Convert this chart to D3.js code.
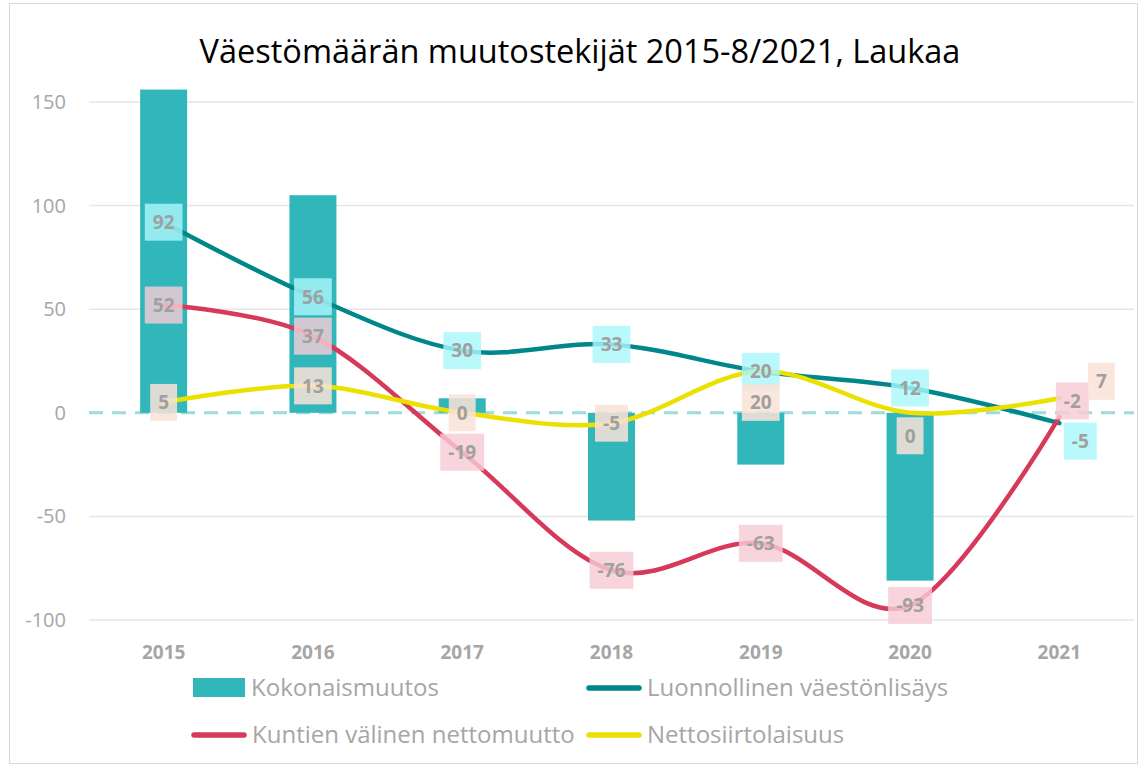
<!DOCTYPE html>
<html>
<head>
<meta charset="utf-8">
<script src="https://d3js.org/d3.v7.min.js"></script>
<style>
  body { margin: 0; background: #fff; }
  svg { font-family: 'Open Sans', 'Noto Sans', sans-serif; }
</style>
</head>
<body>
<script>
const years = ['2015', '2016', '2017', '2018', '2019', '2020', '2021'];
const kokonais = [156, 105, 7, -52, -25, -81, 0];
const luonnollinen = [92, 56, 30, 33, 20, 12, -5];
const kuntien = [52, 37, -19, -76, -63, -93, -2];
const netto = [5, 13, 0, -5, 20, 0, 7];
const yTicks = [-100, -50, 0, 50, 100, 150];

const W = 1141, H = 766;
const svg = d3.select('body').append('svg').attr('width', W).attr('height', H);

svg.append('rect').attr('x', 9.5).attr('y', 3.5).attr('width', 1128).attr('height', 760)
  .attr('fill', '#fff').attr('stroke', '#d9d9d9');

svg.append('text').attr('x', 580).attr('y', 63).attr('text-anchor', 'middle')
  .attr('font-size', 32.5).attr('fill', '#000')
  .text('Väestömäärän muutostekijät 2015-8/2021, Laukaa');

const x = d3.scaleBand().domain(years).range([89, 1134]);
const y = d3.scaleLinear().domain([-100, 150]).range([620, 102]);
const cx = d => x(d) + x.bandwidth() / 2;

// gridlines + y labels
svg.append('g').selectAll('line').data(yTicks.filter(t => t !== 0)).join('line')
  .attr('x1', 89).attr('x2', 1134).attr('y1', d => y(d)).attr('y2', d => y(d))
  .attr('stroke', '#e6e6e6').attr('stroke-width', 1.5);
svg.append('g').selectAll('text').data(yTicks).join('text')
  .attr('x', 66).attr('y', d => y(d)).attr('dy', '0.35em').attr('text-anchor', 'end')
  .attr('font-size', 20).attr('fill', '#a6a6a6').text(d => d);

svg.append('line').attr('x1', 89).attr('x2', 1134).attr('y1', y(0)).attr('y2', y(0))
  .attr('stroke', '#9bdcdc').attr('stroke-width', 3).attr('stroke-dasharray', '14 9');

// bars
const bw = 47;
svg.append('g').selectAll('rect').data(years).join('rect')
  .attr('x', d => cx(d) - bw / 2)
  .attr('y', (d, i) => y(Math.max(0, kokonais[i])))
  .attr('width', bw)
  .attr('height', (d, i) => Math.abs(y(kokonais[i]) - y(0)))
  .attr('fill', '#31b6ba');

// x labels
svg.append('g').selectAll('text').data(years).join('text')
  .attr('x', d => cx(d)).attr('y', 659).attr('text-anchor', 'middle')
  .attr('font-size', 19).attr('font-weight', 'bold').attr('fill', '#a6a6a6').text(d => d);

const series = [
  { name: 'Luonnollinen väestönlisäys', values: luonnollinen, color: '#00878a', box: 'rgba(170,246,250,0.82)',
    nudge: { 6: [21, 18] } },
  { name: 'Kuntien välinen nettomuutto', values: kuntien, color: '#d6395a', box: 'rgba(246,204,214,0.82)',
    nudge: { 6: [13, -16] } },
  { name: 'Nettosiirtolaisuus', values: netto, color: '#ece000', box: 'rgba(250,226,216,0.85)',
    nudge: { 4: [0, 31], 5: [0, 23], 6: [42, -17] } }
];

const line = d3.line().x(d => cx(d.year)).y(d => y(d.v)).curve(d3.curveCatmullRom.alpha(0));
series.forEach(s => {
  svg.append('path').datum(years.map((yr, i) => ({ year: yr, v: s.values[i] })))
    .attr('d', line).attr('fill', 'none').attr('stroke', s.color).attr('stroke-width', 4.5)
    .attr('stroke-linecap', 'round');
});

// data labels
series.forEach(s => {
  years.forEach((yr, i) => {
    const n = s.nudge[i] || [0, 0];
    const px = cx(yr) + n[0], py = y(s.values[i]) + n[1];
    const g = svg.append('g').attr('transform', `translate(${px},${py})`);
    const r = g.append('rect');
    const t = g.append('text').attr('text-anchor', 'middle').attr('dy', '0.36em')
      .attr('font-size', 19).attr('font-weight', 'bold').attr('fill', '#a0a0a0').text(s.values[i]);
    const w = t.node().getComputedTextLength() + 16;
    r.attr('x', -w / 2).attr('y', -18.5).attr('width', w).attr('height', 37).attr('fill', s.box);
  });
});

// legend
const leg = svg.append('g');
leg.append('rect').attr('x', 193).attr('y', 678).attr('width', 52).attr('height', 19).attr('fill', '#31b6ba');
leg.append('text').attr('x', 251).attr('y', 688).attr('dy', '0.35em').attr('font-size', 24).attr('fill', '#a6a6a6').text('Kokonaismuutos');
const legPos = [[586, 688], [191, 735], [586, 735]];
series.forEach((s, i) => {
  const [lx, ly] = legPos[i];
  leg.append('line').attr('x1', lx + 3).attr('x2', lx + 53).attr('y1', ly).attr('y2', ly)
    .attr('stroke', s.color).attr('stroke-width', 5.5).attr('stroke-linecap', 'round');
  leg.append('text').attr('x', lx + 61).attr('y', ly).attr('dy', '0.35em').attr('font-size', 24)
    .attr('fill', '#a6a6a6').text(s.name);
});
</script>
</body>
</html>
